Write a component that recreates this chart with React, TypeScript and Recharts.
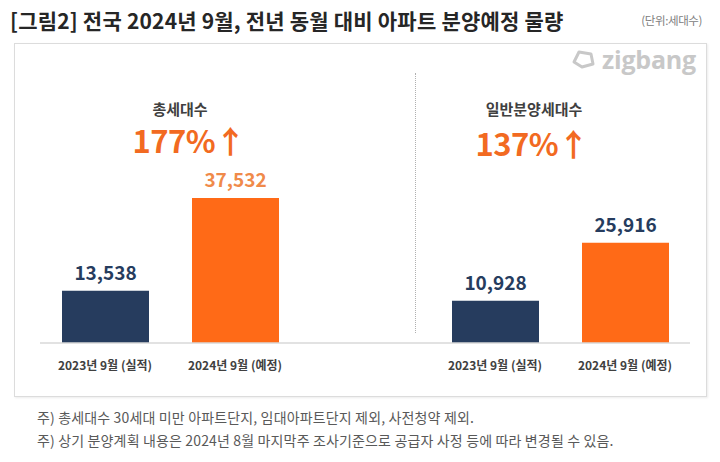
import React from 'react';
import { BarChart, Bar, XAxis, YAxis, Cell, LabelList } from 'recharts';

const categories = ['2023년 9월 (실적)', '2024년 9월 (예정)'];
const totalHouseholds = [13538, 37532];
const generalSupply = [10928, 25916];
const barColors = ['#263C5E', '#FF6A17'];
const labelColors = ['#263C5E', '#F08A4A'];

// one chart, with an empty slot in the middle so both panels share the baseline
const data = [
  { id: 't0', label: categories[0], value: totalHouseholds[0], c: 0 },
  { id: 't1', label: categories[1], value: totalHouseholds[1], c: 1 },
  { id: 'gap', label: '', value: null, c: 0 },
  { id: 'g0', label: categories[0], value: generalSupply[0], c: 0 },
  { id: 'g1', label: categories[1], value: generalSupply[1], c: 1 },
];

const font = '"Noto Sans CJK KR", "Noto Sans", sans-serif';

const ValueLabel = (props: any) => {
  const { x, y, width, value, index } = props;
  if (value == null) return null;
  const c = data[index].c;
  return (
    <text
      x={x + width / 2}
      y={y - 11}
      textAnchor="middle"
      fill={labelColors[c]}
      fontSize={19}
      fontWeight={700}
      fontFamily={font}
    >
      {Number(value).toLocaleString('en-US')}
    </text>
  );
};

const Abs = ({ x, y, children, style }: any) => (
  <div
    style={{
      position: 'absolute',
      left: x,
      top: y,
      transform: 'translate(-50%, -50%)',
      whiteSpace: 'nowrap',
      lineHeight: 1,
      ...style,
    }}
  >
    {children}
  </div>
);

export default function App() {
  return (
    <div
      style={{
        position: 'absolute',
        left: 0,
        top: 0,
        width: 720,
        height: 462,
        background: '#fff',
        fontFamily: font,
        overflow: 'hidden',
      }}
    >
      <div
        style={{
          position: 'absolute',
          left: 10,
          top: 6,
          fontSize: 21,
          lineHeight: '28px',
          fontWeight: 700,
          color: '#262626',
          letterSpacing: 0.2,
          whiteSpace: 'nowrap',
        }}
      >
        [그림2] 전국 2024년 9월, 전년 동월 대비 아파트 분양예정 물량
      </div>
      <div
        style={{
          position: 'absolute',
          right: 18,
          top: 12,
          fontSize: 11.5,
          color: '#808080',
          letterSpacing: -0.4,
        }}
      >
        (단위:세대수)
      </div>

      <div
        style={{
          position: 'absolute',
          left: 14,
          top: 43,
          width: 691,
          height: 352,
          border: '1px solid #dcdcdc',
          boxShadow: '1px 1px 2px rgba(0,0,0,0.08)',
        }}
      />

      {/* logo */}
      <div style={{ position: 'absolute', left: 570, top: 42, display: 'flex', alignItems: 'center' }}>
        <svg width={26} height={22} viewBox="0 0 26 22">
          <path
            d="M4 14 L9 4 L21 6 L23 16 L12 19 Z"
            fill="none"
            stroke="#c8c8c8"
            strokeWidth={3}
            strokeLinejoin="round"
          />
        </svg>
        <span
          style={{
            marginLeft: 6,
            fontFamily: '"Open Sans", sans-serif',
            fontWeight: 700,
            fontSize: 25,
            color: '#c8c8c8',
            letterSpacing: -0.2,
          }}
        >
          zigbang
        </span>
      </div>

      {/* dashed separator */}
      <div
        style={{
          position: 'absolute',
          left: 415,
          top: 73,
          height: 260,
          borderLeft: '1.5px dotted #b0b0b0',
        }}
      />

      <Abs x={180} y={108} style={{ fontSize: 15, fontWeight: 700, color: '#404040' }}>
        총세대수
      </Abs>
      <Abs x={189} y={139} style={{ fontSize: 31, fontWeight: 700, color: '#F26A21', letterSpacing: -0.5 }}>
        177%↑
      </Abs>
      <Abs x={534} y={108} style={{ fontSize: 15, fontWeight: 700, color: '#404040' }}>
        일반분양세대수
      </Abs>
      <Abs x={532} y={142} style={{ fontSize: 31, fontWeight: 700, color: '#F26A21', letterSpacing: -0.5 }}>
        137%↑
      </Abs>

      <div style={{ position: 'absolute', left: 0, top: 0 }}>
        <BarChart
          width={720}
          height={462}
          data={data}
          margin={{ top: 111, right: 30, left: 40, bottom: 89 }}
          barSize={87}
        >
          <XAxis
            dataKey="id"
            height={30}
            tickFormatter={(v: string) => data.find((d) => d.id === v)?.label ?? ''}
            axisLine={{ stroke: '#d9d9d9', strokeWidth: 1.5 }}
            tickLine={false}
            tickMargin={12}
            tick={{ fontSize: 12, fontWeight: 700, fill: '#404040', fontFamily: font }}
            interval={0}
          />
          <YAxis hide domain={[0, 60000]} />
          <Bar dataKey="value" isAnimationActive={false}>
            {data.map((d) => (
              <Cell key={d.id} fill={barColors[d.c]} />
            ))}
            <LabelList dataKey="value" content={ValueLabel} />
          </Bar>
        </BarChart>
      </div>

      <div
        style={{
          position: 'absolute',
          left: 37,
          top: 406,
          fontSize: 14,
          color: '#595959',
          lineHeight: '23px',
          letterSpacing: 0.15,
          whiteSpace: 'nowrap',
        }}
      >
        <div>주) 총세대수 30세대 미만 아파트단지, 임대아파트단지 제외, 사전청약 제외.</div>
        <div>주) 상기 분양계획 내용은 2024년 8월 마지막주 조사기준으로 공급자 사정 등에 따라 변경될 수 있음.</div>
      </div>
    </div>
  );
}
